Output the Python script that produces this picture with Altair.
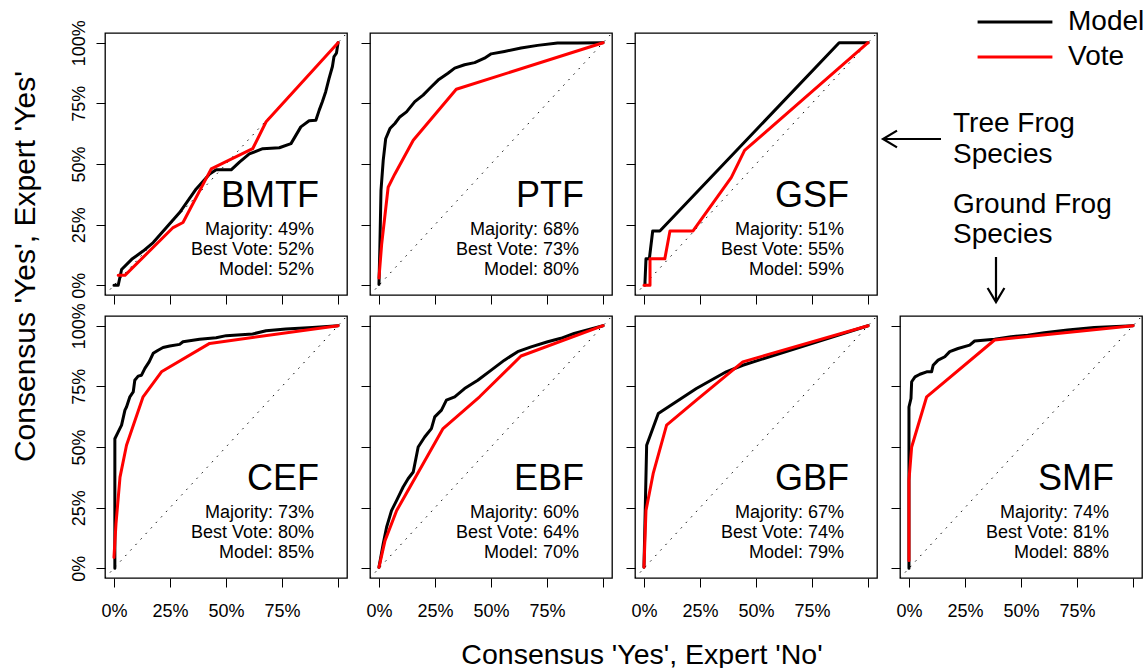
import altair as alt
import pandas as pd

FONT = "Liberation Sans"

# ---------------- data ----------------
panel_names = ["BMTF", "PTF", "GSF", "CEF", "EBF", "GBF", "SMF"]
majority_pct = [49, 68, 51, 73, 60, 67, 74]
best_vote_pct = [52, 73, 55, 80, 64, 74, 81]
model_pct = [52, 80, 59, 85, 70, 79, 88]

bmtf_model_x = [0.0, 0.019, 0.034, 0.079, 0.130, 0.175, 0.234, 0.293, 0.367, 0.427, 0.456, 0.523, 0.560, 0.604,
                0.664, 0.738, 0.790, 0.834, 0.871, 0.901, 0.916, 0.930, 0.945, 0.960, 0.975, 0.982, 0.993, 1.0]
bmtf_model_y = [0.0, 0.0, 0.065, 0.107, 0.141, 0.176, 0.238, 0.300, 0.397, 0.459, 0.476, 0.476, 0.508, 0.542,
                0.563, 0.567, 0.584, 0.653, 0.678, 0.680, 0.722, 0.757, 0.798, 0.853, 0.902, 0.943, 0.957, 1.0]
bmtf_vote_x = [0.019, 0.049, 0.264, 0.308, 0.434, 0.619, 0.679, 1.0]
bmtf_vote_y = [0.041, 0.041, 0.238, 0.259, 0.480, 0.563, 0.674, 1.0]

ptf_model_x = [0.0, 0.004, 0.009, 0.019, 0.030, 0.049, 0.071, 0.093, 0.123, 0.160, 0.197, 0.227, 0.264, 0.308,
               0.338, 0.382, 0.427, 0.471, 0.501, 0.560, 0.634, 0.708, 0.797, 0.886, 1.0]
ptf_model_y = [0.003, 0.155, 0.390, 0.515, 0.604, 0.646, 0.667, 0.694, 0.715, 0.757, 0.784, 0.812, 0.846, 0.874,
               0.895, 0.909, 0.918, 0.936, 0.954, 0.964, 0.978, 0.989, 0.999, 0.999, 1.0]
ptf_vote_x = [0.0, 0.012, 0.041, 0.071, 0.153, 0.345, 1.0]
ptf_vote_y = [0.030, 0.169, 0.404, 0.459, 0.598, 0.808, 1.0]

gsf_model_x = [0.004, 0.009, 0.024, 0.039, 0.071, 0.871, 1.0]
gsf_model_y = [0.0, 0.109, 0.109, 0.224, 0.224, 1.0, 1.0]
gsf_vote_x = [0.0, 0.027, 0.027, 0.093, 0.116, 0.219, 0.390, 0.449, 1.0]
gsf_vote_y = [0.0, 0.0, 0.109, 0.109, 0.224, 0.224, 0.445, 0.556, 1.0]

cef_model_x = [0.004, 0.004, 0.019, 0.034, 0.049, 0.056, 0.071, 0.086, 0.093, 0.108, 0.123, 0.138, 0.157, 0.175,
               0.197, 0.219, 0.249, 0.293, 0.308, 0.382, 0.456, 0.501, 0.619, 0.679, 0.767, 0.886, 1.0]
cef_model_y = [0.0, 0.534, 0.562, 0.590, 0.652, 0.665, 0.707, 0.727, 0.775, 0.792, 0.796, 0.824, 0.851, 0.886,
               0.899, 0.910, 0.916, 0.923, 0.934, 0.944, 0.950, 0.959, 0.966, 0.979, 0.986, 0.993, 1.0]
cef_vote_x = [0.0, 0.009, 0.027, 0.056, 0.130, 0.212, 0.427, 1.0]
cef_vote_y = [0.045, 0.183, 0.376, 0.507, 0.707, 0.810, 0.927, 1.0]

ebf_model_x = [0.0, 0.019, 0.034, 0.056, 0.079, 0.108, 0.130, 0.153, 0.175, 0.204, 0.234, 0.249, 0.279, 0.301,
               0.338, 0.382, 0.441, 0.501, 0.560, 0.619, 0.679, 0.753, 0.812, 0.871, 1.0]
ebf_model_y = [0.004, 0.101, 0.169, 0.238, 0.280, 0.335, 0.369, 0.397, 0.500, 0.541, 0.576, 0.624, 0.652, 0.693,
               0.707, 0.741, 0.775, 0.817, 0.858, 0.893, 0.913, 0.934, 0.948, 0.968, 1.0]
ebf_vote_x = [0.0, 0.027, 0.079, 0.286, 0.449, 0.634, 1.0]
ebf_vote_y = [0.004, 0.114, 0.238, 0.576, 0.707, 0.875, 1.0]

gbf_model_x = [0.0, 0.012, 0.064, 0.234, 0.367, 0.441, 1.0]
gbf_model_y = [0.004, 0.507, 0.638, 0.741, 0.810, 0.837, 1.0]
gbf_vote_x = [0.0, 0.009, 0.041, 0.101, 0.234, 0.441, 1.0]
gbf_vote_y = [0.004, 0.238, 0.390, 0.590, 0.693, 0.851, 1.0]

smf_model_x = [0.0, 0.0, 0.009, 0.012, 0.027, 0.049, 0.079, 0.101, 0.108, 0.130, 0.160, 0.182, 0.219, 0.271,
               0.293, 0.382, 0.456, 0.530, 0.604, 0.708, 0.827, 1.0]
smf_model_y = [0.0, 0.665, 0.700, 0.769, 0.789, 0.800, 0.810, 0.810, 0.837, 0.858, 0.872, 0.893, 0.906, 0.920,
               0.937, 0.944, 0.955, 0.961, 0.971, 0.982, 0.993, 1.0]
smf_vote_x = [0.0, 0.0, 0.012, 0.079, 0.382, 1.0]
smf_vote_y = [0.032, 0.362, 0.500, 0.707, 0.941, 1.0]

tick_values = [0, 0.25, 0.5, 0.75, 1.0]
axis_domain = [-0.04, 1.04]
chance_line = [-0.04, 1.04]
series_names = ["Model", "Vote"]
series_colors = ["#000000", "#FF0000"]

x_title = "Consensus 'Yes', Expert 'No'"
y_title = "Consensus 'Yes', Expert 'Yes'"
tree_label = ["Tree Frog", "Species"]
ground_label = ["Ground Frog", "Species"]

# ---------------- layout constants ----------------
PW, PH = 242, 262
TICK = 9

color_enc = alt.Color(
    "series:N",
    scale=alt.Scale(domain=series_names, range=series_colors),
    legend=alt.Legend(
        title=None, orient="none", legendX=871, legendY=-25,
        symbolType="stroke", symbolStrokeWidth=3, symbolSize=5600,
        labelFontSize=28, labelFont=FONT, labelColor="black", labelOffset=14,
        rowPadding=7, padding=0, clipHeight=28,
    ),
)


def one_row(t):
    return pd.DataFrame({"t": [t]})


def make_panel(name, maj, best, mod, mx, my, vx, vy, xlabels, ylabels):
    df = pd.DataFrame({
        "fpr": list(mx) + list(vx),
        "tpr": list(my) + list(vy),
        "series": ["Model"] * len(mx) + ["Vote"] * len(vx),
        "k": list(range(len(mx))) + list(range(len(vx))),
    })
    xenc = alt.X(
        "fpr:Q",
        scale=alt.Scale(domain=axis_domain, nice=False, zero=False),
        axis=alt.Axis(
            values=tick_values, labels=xlabels, title=None, grid=False, domain=False,
            ticks=True, tickSize=TICK, tickColor="black", tickWidth=1,
            labelExpr="datum.value >= 1 ? '' : format(datum.value, '.0%')",
            labelFontSize=18, labelFont=FONT, labelColor="black", labelPadding=15,
            labelFlush=False, labelOverlap=False,
        ),
    )
    yenc = alt.Y(
        "tpr:Q",
        scale=alt.Scale(domain=axis_domain, nice=False, zero=False),
        axis=alt.Axis(
            values=tick_values, labels=ylabels, title=None, grid=False, domain=False,
            ticks=True, tickSize=TICK, tickColor="black", tickWidth=1,
            format=".0%", labelAngle=270, labelAlign="center", labelBaseline="bottom",
            labelFontSize=18, labelFont=FONT, labelColor="black", labelPadding=8,
            labelFlush=False, labelOverlap=False,
        ),
    )
    diag = alt.Chart(pd.DataFrame({"fpr": chance_line, "tpr": chance_line})).mark_line(
        color="black", strokeWidth=1, strokeDash=[1.5, 6]
    ).encode(x=xenc, y=yenc)
    curves = alt.Chart(df).mark_line(strokeWidth=3, strokeCap="round", strokeJoin="round").encode(
        x=xenc, y=yenc, color=color_enc, order="k:Q"
    )
    layers = [diag, curves]
    layers.append(
        alt.Chart(one_row(name)).mark_text(align="right", baseline="alphabetic", fontSize=36, font=FONT, color="black")
        .encode(text="t:N", x=alt.value(PW - 28), y=alt.value(PH - 88))
    )
    for txt, off in [(f"Majority: {maj}%", 60), (f"Best Vote: {best}%", 40), (f"Model: {mod}%", 20)]:
        layers.append(
            alt.Chart(one_row(txt)).mark_text(align="right", baseline="alphabetic", fontSize=18, font=FONT, color="black")
            .encode(text="t:N", x=alt.value(PW - 33), y=alt.value(PH - off))
        )
    return alt.layer(*layers).properties(width=PW, height=PH)


# ---------- annotation cell (empty 4th slot of the top row) ----------
def ann_text(t, x, y):
    return alt.Chart(one_row(t)).mark_text(align="left", baseline="alphabetic", fontSize=28, font=FONT, color="black").encode(
        text="t:N", x=alt.value(x), y=alt.value(y))


ann_layers = [
    ann_text(tree_label[0], 53, 99),
    ann_text(tree_label[1], 53, 130),
    ann_text(ground_label[0], 53, 180),
    ann_text(ground_label[1], 53, 210),
    alt.Chart(one_row("a")).mark_rule(color="black", strokeWidth=2.2).encode(
        x=alt.value(-17), x2=alt.value(41), y=alt.value(106)),
    alt.Chart(one_row("a")).mark_point(shape="M 1 -0.6 L 0 0 L 1 0.6", filled=False, size=784,
                                        color="black", strokeWidth=2.2, opacity=1).encode(
        x=alt.value(-17), y=alt.value(106)),
    alt.Chart(one_row("a")).mark_rule(color="black", strokeWidth=2.2).encode(
        x=alt.value(96), y=alt.value(224), y2=alt.value(268)),
    alt.Chart(one_row("a")).mark_point(shape="M -0.6 -1 L 0 0 L 0.6 -1", filled=False, size=784,
                                        color="black", strokeWidth=2.2, opacity=1).encode(
        x=alt.value(96), y=alt.value(269)),
]
ann_cell = alt.layer(*ann_layers).properties(
    width=PW, height=PH, view=alt.ViewBackground(stroke="transparent")
)

p_bmtf = make_panel("BMTF", majority_pct[0], best_vote_pct[0], model_pct[0], bmtf_model_x, bmtf_model_y, bmtf_vote_x, bmtf_vote_y, False, True)
p_ptf = make_panel("PTF", majority_pct[1], best_vote_pct[1], model_pct[1], ptf_model_x, ptf_model_y, ptf_vote_x, ptf_vote_y, False, False)
p_gsf = make_panel("GSF", majority_pct[2], best_vote_pct[2], model_pct[2], gsf_model_x, gsf_model_y, gsf_vote_x, gsf_vote_y, False, False)
p_cef = make_panel("CEF", majority_pct[3], best_vote_pct[3], model_pct[3], cef_model_x, cef_model_y, cef_vote_x, cef_vote_y, True, True)
p_ebf = make_panel("EBF", majority_pct[4], best_vote_pct[4], model_pct[4], ebf_model_x, ebf_model_y, ebf_vote_x, ebf_vote_y, True, False)
p_gbf = make_panel("GBF", majority_pct[5], best_vote_pct[5], model_pct[5], gbf_model_x, gbf_model_y, gbf_vote_x, gbf_vote_y, True, False)
p_smf = make_panel("SMF", majority_pct[6], best_vote_pct[6], model_pct[6], smf_model_x, smf_model_y, smf_vote_x, smf_vote_y, True, False)

grid = alt.concat(
    p_bmtf, p_ptf, p_gsf, ann_cell, p_cef, p_ebf, p_gbf, p_smf,
    columns=4, spacing={"row": 21, "column": 23}, bounds="flush",
    title=alt.TitleParams(x_title, orient="bottom", anchor="middle", fontSize=28.5, font=FONT,
                          fontWeight="normal", color="black", offset=20, dx=35),
)
chart = alt.hconcat(
    grid,
    title=alt.TitleParams(y_title, orient="left", anchor="middle", fontSize=30, font=FONT,
                          fontWeight="normal", color="black", offset=28, dx=72),
).properties(
    padding={"left": 11, "top": 8, "right": 0, "bottom": 0},
    background="white",
).configure_view(
    stroke="black", strokeWidth=1.3
)

chart.save("out.html", embed_options={"renderer": "svg", "actions": False})
